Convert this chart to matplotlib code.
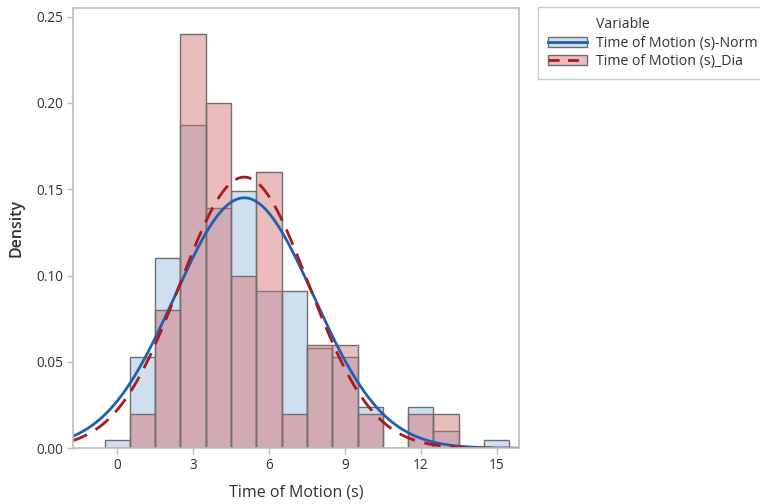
import numpy as np
import matplotlib
matplotlib.use("Agg")
from matplotlib import pyplot as plt
from matplotlib.patches import Patch
from matplotlib.lines import Line2D
from matplotlib.legend_handler import HandlerTuple

plt.rcParams['font.family'] = ['Open Sans', 'DejaVu Sans']

# bin centres (width 1) and densities
bin_centers = [0, 1, 2, 3, 4, 5, 6, 7, 8, 9, 10, 11, 12, 13, 14, 15]
norm_density = [0.005, 0.053, 0.110, 0.187, 0.139, 0.149, 0.091, 0.091,
                0.058, 0.053, 0.024, 0.0, 0.024, 0.010, 0.0, 0.005]
dia_density = [0.0, 0.02, 0.08, 0.24, 0.20, 0.10, 0.16, 0.02,
               0.06, 0.06, 0.02, 0.0, 0.02, 0.02, 0.0, 0.0]

# fitted normal parameters
norm_mean, norm_sd = 5.02, 2.75
dia_mean, dia_sd = 5.02, 2.54

x_ticks = [0, 3, 6, 9, 12, 15]
y_ticks = [0.00, 0.05, 0.10, 0.15, 0.20, 0.25]

blue_fill = "#d0dff0"
blue_line = "#1f5fb4"
red_face = (0.83, 0.42, 0.42, 0.45)
red_line = "#a81c1c"
edge = "#6f6f6f"
grey = "#bdbdbd"
text_col = "#303030"


def normal_pdf(x, mu, sd):
    return np.exp(-0.5 * ((x - mu) / sd) ** 2) / (sd * np.sqrt(2 * np.pi))


fig = plt.figure(figsize=(7.6, 5.04), dpi=100)
ax = fig.add_axes([0.0957, 0.1105, 0.5875, 0.873])

ax.bar(bin_centers, norm_density, width=1.0, color=blue_fill, edgecolor=edge, linewidth=1.0)
ax.bar(bin_centers, dia_density, width=1.0, color=red_face, edgecolor=edge, linewidth=1.0)

xs = np.linspace(-1.8, 16, 400)
ax.plot(xs, normal_pdf(xs, norm_mean, norm_sd), color=blue_line, lw=2.0)
ax.plot(xs, normal_pdf(xs, dia_mean, dia_sd), color=red_line, lw=2.0, dashes=(6, 3.5))

ax.set_xlim(-1.76, 15.89)
ax.set_ylim(0, 0.2548)
ax.set_xticks(x_ticks)
ax.set_yticks(y_ticks)
ax.set_yticklabels([f"{v:.2f}" for v in y_ticks])

for s in ax.spines.values():
    s.set_color(grey)
    s.set_linewidth(1.2)
ax.tick_params(direction='out', length=4, width=1, color=grey, labelsize=9.8, labelcolor=text_col, pad=3)

ax.set_xlabel("Time of Motion (s)", fontsize=11.5, color=text_col, labelpad=8)
ax.set_ylabel("Density", fontsize=11.5, color=text_col, labelpad=8, fontweight='semibold')

# "Variable" heading sits in line with the entry labels, so use a blank handle for it
handles = [
    Line2D([], [], linestyle='none'),
    (Patch(facecolor=blue_fill, edgecolor=edge), Line2D([], [], color=blue_line, lw=2)),
    (Patch(facecolor=(0.92, 0.74, 0.74), edgecolor=edge), Line2D([], [], color=red_line, lw=2, dashes=(4, 3))),
]
labels = ["Variable", "Time of Motion (s)-Norm", "Time of Motion (s)_Dia"]
leg = fig.legend(handles, labels, loc='upper left', bbox_to_anchor=(0.708, 0.986),
                 handler_map={tuple: HandlerTuple(ndivide=1, pad=0)},
                 fontsize=10.2, frameon=True, fancybox=False,
                 handlelength=2.75, handleheight=0.7, borderpad=0.7, labelspacing=0.25,
                 handletextpad=0.65, borderaxespad=0)
leg.get_frame().set_edgecolor(grey)
leg.get_frame().set_linewidth(1.0)
for t in leg.get_texts():
    t.set_color(text_col)

fig.savefig("out.png", dpi=100)
